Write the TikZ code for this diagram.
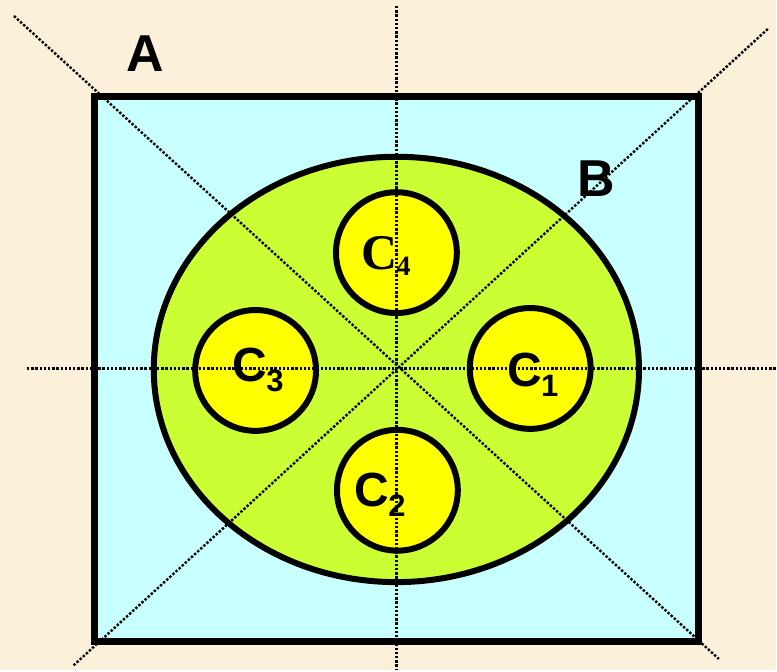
\documentclass[tikz,border=0pt]{standalone}
\usepackage{fontspec}
\setmainfont{Liberation Sans}
\newfontfamily\timesfam{Liberation Serif}
\usepackage{xcolor}
\usepackage{tikz}
\definecolor{parch}{HTML}{FBF1DA}
\definecolor{cyanL}{HTML}{C8FFFF}
\definecolor{limeG}{HTML}{CCFF33}
\definecolor{ylw}{HTML}{FFFF00}
\newcommand\csub[1]{C\kern-1pt\raisebox{-10pt}{\fontsize{31}{31}\selectfont #1}}
\tikzset{
  frame/.style ={draw=black, line width=7pt, fill=cyanL},
  oval/.style  ={draw=black, line width=6pt, fill=limeG},
  disc/.style  ={circle, draw=black, line width=6pt, fill=ylw,
                 minimum size=121pt, inner sep=0pt},
  guide/.style ={line width=2.4pt, dash pattern=on 2.4pt off 1.8pt, draw=black},
  big/.style   ={font=\fontsize{52}{52}\selectfont\bfseries, anchor=base west, inner sep=0pt},
  clab/.style  ={font=\fontsize{48}{48}\selectfont\bfseries, anchor=base west, inner sep=0pt},
  tlab/.style  ={font=\timesfam\fontsize{50}{50}\selectfont\bfseries, anchor=base west, inner sep=0pt},
}
\begin{document}
\begin{tikzpicture}[x=1pt,y=-1pt]
  % --- page ---
  \fill[parch] (0,0) rectangle (777,671);
  % --- square A and region B ---
  \coordinate (nw) at (95,97);
  \coordinate (se) at (700,642);
  \draw[frame] (nw) rectangle (se);
  \coordinate (mid) at (397,370);
  \draw[oval] (mid) ellipse [x radius=243pt, y radius=213pt];
  % --- the four discs ---
  \node[disc] (c1) at (531,369) {};
  \node[disc] (c2) at (398,491) {};
  \node[disc] (c3) at (256,371) {};
  \node[disc] (c4) at (397,253) {};
  % --- dotted guides ---
  \coordinate (vt) at (397,6);
  \coordinate (vb) at (397,671);
  \coordinate (hl) at (27,369);
  \coordinate (hr) at (777,369);
  \coordinate (d1a) at (14,16);
  \coordinate (d1b) at (720,660);
  \coordinate (d2a) at (769,29);
  \coordinate (d2b) at (73,667);
  \foreach \a/\b in {vt/vb,hl/hr,d1a/d1b,d2a/d2b}
     \draw[guide] (\a) -- (\b);
  % --- labels ---
  \node[big] (la) at (126,72) {A};
  \node[big] (lb) at (578,197) {B};
  \node[clab] (t1) at (508,387) {\csub{1}};
  \node[clab] (t2) at (355,507) {\csub{2}};
  \node[clab] (t3) at (233,382) {\csub{3}};
  \node[tlab] (t4) at (362,270) {C\kern-1pt\raisebox{-6pt}{\fontsize{28}{28}\selectfont 4}};
\end{tikzpicture}
\end{document}
